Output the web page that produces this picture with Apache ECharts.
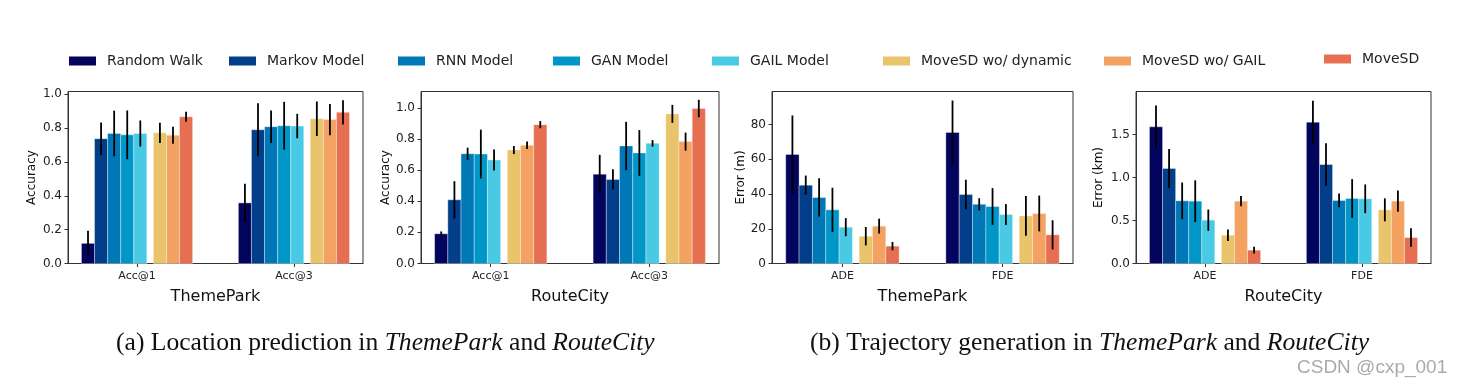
<!DOCTYPE html>
<html>
<head>
<meta charset="utf-8">
<script src="https://cdn.jsdelivr.net/npm/echarts@6/dist/echarts.min.js"></script>
<style>html,body{margin:0;padding:0;background:#fff}#chart{width:1461px;height:391px}</style>
</head>
<body>
<div id="chart"></div>
<script>
// ---------- data ----------
const methods = ['Random Walk', 'Markov Model', 'RNN Model', 'GAN Model', 'GAIL Model', 'MoveSD wo/ dynamic', 'MoveSD wo/ GAIL', 'MoveSD'];
const colors = ['#03045e', '#023e8a', '#0077b6', '#0096c7', '#48cae4', '#e9c46a', '#f4a261', '#e76f51'];

const accCats = ['Acc@1', 'Acc@3'];
const errCats = ['ADE', 'FDE'];

// ThemePark location prediction
const tpAcc1 = [0.119, 0.737, 0.768, 0.760, 0.768, 0.772, 0.758, 0.867];
const tpAcc1Err = [0.075, 0.096, 0.135, 0.144, 0.077, 0.060, 0.050, 0.030];
const tpAcc3 = [0.358, 0.790, 0.808, 0.814, 0.812, 0.855, 0.850, 0.893];
const tpAcc3Err = [0.113, 0.157, 0.096, 0.141, 0.072, 0.102, 0.092, 0.072];
// RouteCity location prediction
const rcAcc1 = [0.191, 0.409, 0.705, 0.703, 0.665, 0.729, 0.759, 0.892];
const rcAcc1Err = [0.015, 0.120, 0.039, 0.157, 0.067, 0.026, 0.024, 0.023];
const rcAcc3 = [0.574, 0.540, 0.755, 0.710, 0.772, 0.961, 0.783, 0.996];
const rcAcc3Err = [0.124, 0.065, 0.155, 0.147, 0.021, 0.058, 0.058, 0.056];
// ThemePark trajectory generation (m)
const tpADE = [62.7, 45.1, 38.0, 30.9, 20.9, 15.7, 21.5, 10.0];
const tpADEErr = [22.5, 5.5, 11.0, 12.7, 5.2, 5.3, 4.3, 2.4];
const tpFDE = [75.4, 39.7, 34.1, 32.8, 28.2, 27.4, 28.8, 16.5];
const tpFDEErr = [18.4, 8.5, 3.5, 10.6, 6.0, 11.4, 10.3, 8.4];
// RouteCity trajectory generation (km)
const rcADE = [1.589, 1.105, 0.729, 0.725, 0.504, 0.329, 0.725, 0.155];
const rcADEErr = [0.248, 0.227, 0.213, 0.242, 0.124, 0.066, 0.060, 0.040];
const rcFDE = [1.643, 1.151, 0.733, 0.756, 0.752, 0.624, 0.725, 0.302];
const rcFDEErr = [0.250, 0.248, 0.080, 0.225, 0.167, 0.134, 0.124, 0.107];

// tick labels
const accTicks = [0, 0.2, 0.4, 0.6, 0.8, 1.0];
const tpErrTicks = [0, 20, 40, 60, 80];
const rcErrTicks = [0, 0.5, 1.0, 1.5];

const panelTitles = ['ThemePark', 'RouteCity', 'ThemePark', 'RouteCity'];
const yNames = ['Accuracy', 'Accuracy', 'Error (m)', 'Error (km)'];
const captionA = '(a) Location prediction in {i|ThemePark} and {i|RouteCity}';
const captionB = '(b) Trajectory generation in {i|ThemePark} and {i|RouteCity}';
const watermark = 'CSDN @cxp_001';

// ---------- layout ----------
const panels = [
  { cats: accCats, a: tpAcc1, ae: tpAcc1Err, b: tpAcc3, be: tpAcc3Err, ticks: accTicks, max: 1.016, dec: 1, left: 68, width: 295, nameGapY: 30 },
  { cats: accCats, a: rcAcc1, ae: rcAcc1Err, b: rcAcc3, be: rcAcc3Err, ticks: accTicks, max: 1.105, dec: 1, left: 421, width: 298, nameGapY: 27 },
  { cats: errCats, a: tpADE, ae: tpADEErr, b: tpFDE, be: tpFDEErr, ticks: tpErrTicks, max: 99, dec: 0, left: 772, width: 301, nameGapY: 25 },
  { cats: errCats, a: rcADE, ae: rcADEErr, b: rcFDE, be: rcFDEErr, ticks: rcErrTicks, max: 2.0, dec: 1, left: 1136, width: 295, nameGapY: 31 }
];
const GRID_TOP = 91.5, GRID_H = 172;
const BW = 1 / 12;
function offsetOf(i) { return (i < 5 ? i - 3.75 : i - 3.25) * BW; }
const legendLeft = [69, 229, 398, 553, 712, 883, 1104, 1324];
const font = 'DejaVu Sans';

const grid = [], xAxis = [], yAxis = [], series = [];
panels.forEach((p, k) => {
  grid.push({ left: p.left, top: GRID_TOP, width: p.width, height: GRID_H, show: true, borderColor: '#333', borderWidth: 1, backgroundColor: 'transparent' });
  xAxis.push({
    type: 'value', gridIndex: k, min: -0.44, max: 1.44,
    axisLine: { show: true, onZero: false, lineStyle: { color: '#333', width: 1 } },
    axisTick: { show: true, customValues: [0, 1], length: 3.5, lineStyle: { color: '#333' } },
    axisLabel: { customValues: [0, 1], formatter: v => p.cats[Math.round(v)], fontFamily: font, fontSize: 11, color: '#222', margin: 7 },
    splitLine: { show: false },
    name: panelTitles[k], nameLocation: 'middle', nameGap: 25,
    nameTextStyle: { fontFamily: font, fontSize: 16, color: '#111' }
  });
  yAxis.push({
    type: 'value', gridIndex: k, min: 0, max: p.max,
    axisLine: { show: true, onZero: false, lineStyle: { color: '#333', width: 1 } },
    axisTick: { show: true, customValues: p.ticks, length: 3.5, lineStyle: { color: '#333' } },
    axisLabel: { customValues: p.ticks, formatter: v => v.toFixed(p.dec), fontFamily: font, fontSize: 12, color: '#222', margin: 6 },
    splitLine: { show: false },
    name: yNames[k], nameLocation: 'middle', nameGap: p.nameGapY, nameRotate: 90,
    nameTextStyle: { fontFamily: font, fontSize: 12, color: '#111' }
  });
  methods.forEach((m, i) => {
    const off = offsetOf(i);
    series.push({
      type: 'custom', name: m, xAxisIndex: k, yAxisIndex: k,
      itemStyle: { color: colors[i] },
      encode: { x: 0, y: 1 },
      data: [[0, p.a[i], p.ae[i]], [1, p.b[i], p.be[i]]],
      renderItem: (params, api) => {
        const cx = api.value(0) + off;
        const v = api.value(1), e = api.value(2);
        const tl = api.coord([cx - BW / 2, v]);
        const br = api.coord([cx + BW / 2, 0]);
        const t = api.coord([cx, v + e]);
        const b = api.coord([cx, Math.max(0, v - e)]);
        return {
          type: 'group',
          children: [
            { type: 'rect', shape: { x: tl[0], y: tl[1], width: br[0] - tl[0], height: br[1] - tl[1] },
              style: { fill: colors[i], stroke: 'rgba(255,255,255,0.35)', lineWidth: 1 } },
            { type: 'line', z2: 10, shape: { x1: t[0], y1: t[1], x2: b[0], y2: b[1] },
              style: { stroke: '#000', lineWidth: 1.8 } }
          ]
        };
      }
    });
  });
});

const legend = methods.map((m, i) => ({
  data: [m], left: legendLeft[i], top: i === 7 ? 52 : 54, padding: 0,
  icon: 'rect', itemWidth: 27, itemHeight: 9, selectedMode: false,
  textStyle: { fontFamily: font, fontSize: 14, color: '#222', padding: [0, 0, 0, 6] }
}));

const capStyle = {
  fontFamily: 'Liberation Serif', fontSize: 25.6, fontWeight: 'normal', color: '#111', lineHeight: 30,
  rich: { i: { fontFamily: 'Liberation Serif', fontSize: 25.6, fontStyle: 'italic', color: '#111', lineHeight: 30 } }
};

const option = {
  animation: false,
  backgroundColor: '#fff',
  title: [
    { text: captionA, left: 116, top: 328, padding: 0, textStyle: capStyle },
    { text: captionB, left: 810, top: 328, padding: 0, textStyle: capStyle },
    { text: watermark, left: 1297, top: 358, padding: 0, textStyle: { fontFamily: 'Liberation Sans', fontSize: 19, fontWeight: 'normal', color: '#aaa' } }
  ],
  legend, grid, xAxis, yAxis, series
};

const chart = echarts.init(document.getElementById('chart'), null, { renderer: 'canvas' });
chart.setOption(option);
</script>
</body>
</html>
